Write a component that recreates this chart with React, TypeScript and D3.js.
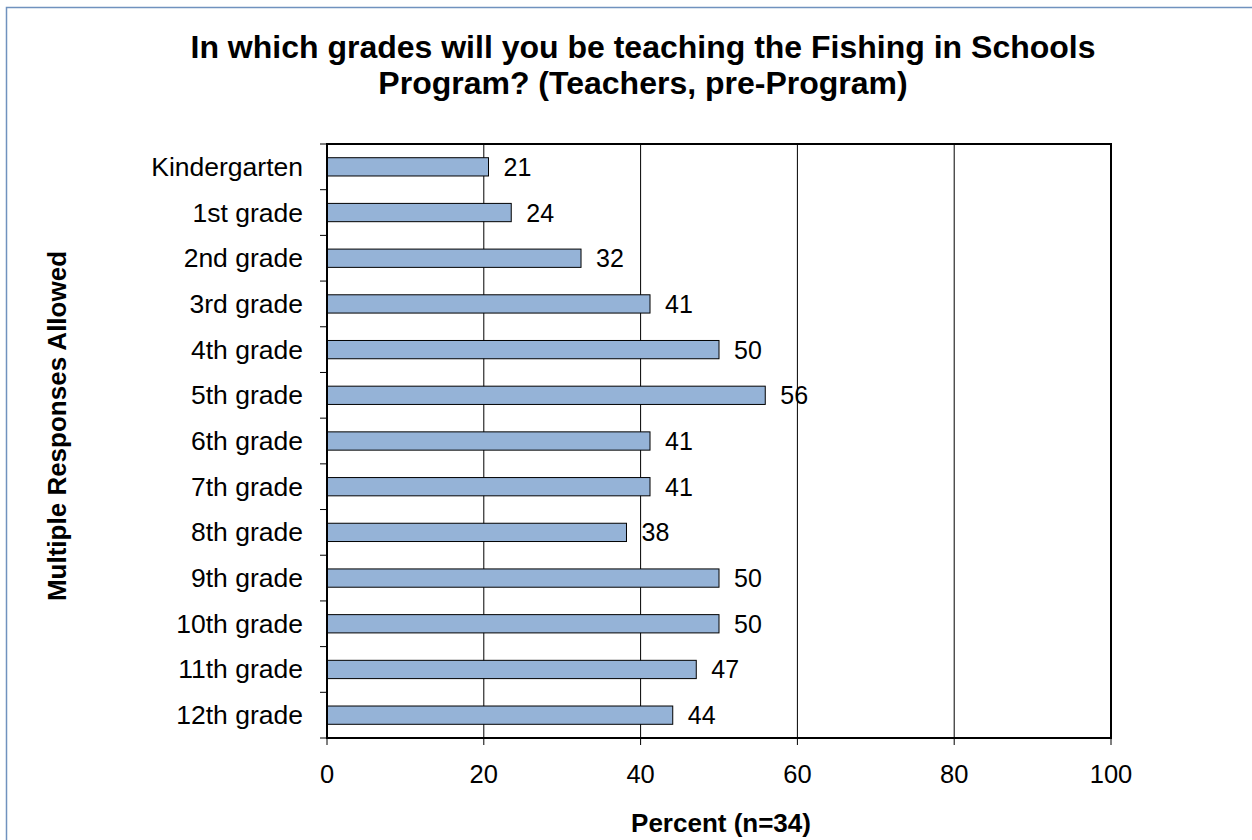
import React from "react";
import * as d3 from "d3";

const categories = [
  "Kindergarten", "1st grade", "2nd grade", "3rd grade", "4th grade", "5th grade",
  "6th grade", "7th grade", "8th grade", "9th grade", "10th grade", "11th grade", "12th grade",
];
const values = [20.6, 23.5, 32.4, 41.2, 50, 55.9, 41.2, 41.2, 38.2, 50, 50, 47.1, 44.1];
const xTicks = [0, 20, 40, 60, 80, 100];
const titleLines = ["In which grades will you be teaching the Fishing in Schools", "Program? (Teachers, pre-Program)"];
const xTitle = "Percent (n=34)";
const yTitle = "Multiple Responses Allowed";

export default function App() {
  const W = 1252, H = 840;
  const left = 327, right = 1111, top = 144, bottom = 738;
  const x = d3.scaleLinear().domain([0, 100]).range([left, right]);
  const y = d3.scaleBand().domain(categories).range([top, bottom]).paddingInner(0.6).paddingOuter(0.3);
  const yb = d3.scaleBand().domain(categories).range([top, bottom]);
  const font = "Arial, 'Liberation Sans', sans-serif";
  return (
    <svg width={W} height={H} style={{ position: "absolute", left: 0, top: 0 }} fontFamily={font}>
      <rect x={0} y={0} width={W} height={H} fill="#fff" />
      <rect x={6.5} y={7.5} width={W + 20} height={H + 20} fill="none" stroke="#7092BE" strokeWidth={1.5} />
      {titleLines.map((t, i) => (
        <text key={i} x={643} y={58 + i * 36} textAnchor="middle" fontSize={32} fontWeight="bold" fill="#000">{t}</text>
      ))}
      {xTicks.slice(1, -1).map((t) => (
        <line key={t} x1={x(t)} x2={x(t)} y1={top} y2={bottom} stroke="#000" strokeWidth={1} />
      ))}
      {categories.map((c, i) => (
        <g key={c}>
          <rect x={x(0)} y={y(c)!} width={x(values[i]) - x(0)} height={y.bandwidth()} fill="#95B3D7" stroke="#000" strokeWidth={1} />
          <text x={x(values[i]) + 15} y={y(c)! + y.bandwidth() / 2 + 9} fontSize={25} fill="#000">{Math.round(values[i])}</text>
          <text x={303} y={y(c)! + y.bandwidth() / 2 + 9} textAnchor="end" fontSize={26.5} fill="#000">{c}</text>
        </g>
      ))}
      {categories.map((c) => (
        <line key={"t" + c} x1={320} x2={left} y1={yb(c)!} y2={yb(c)!} stroke="#000" strokeWidth={1} />
      ))}
      <line x1={320} x2={left} y1={bottom} y2={bottom} stroke="#000" strokeWidth={1} />
      {xTicks.map((t) => (
        <g key={"x" + t}>
          <line x1={x(t)} x2={x(t)} y1={bottom} y2={bottom + 7} stroke="#000" strokeWidth={1} />
          <text x={x(t)} y={783} textAnchor="middle" fontSize={25.5} fill="#000">{t}</text>
        </g>
      ))}
      <rect x={left} y={top} width={right - left} height={bottom - top} fill="none" stroke="#000" strokeWidth={2} />
      <text x={721} y={832} textAnchor="middle" fontSize={26} fontWeight="bold" fill="#000">{xTitle}</text>
      <text transform={`translate(66,426) rotate(-90)`} textAnchor="middle" fontSize={26} fontWeight="bold" fill="#000">{yTitle}</text>
    </svg>
  );
}
